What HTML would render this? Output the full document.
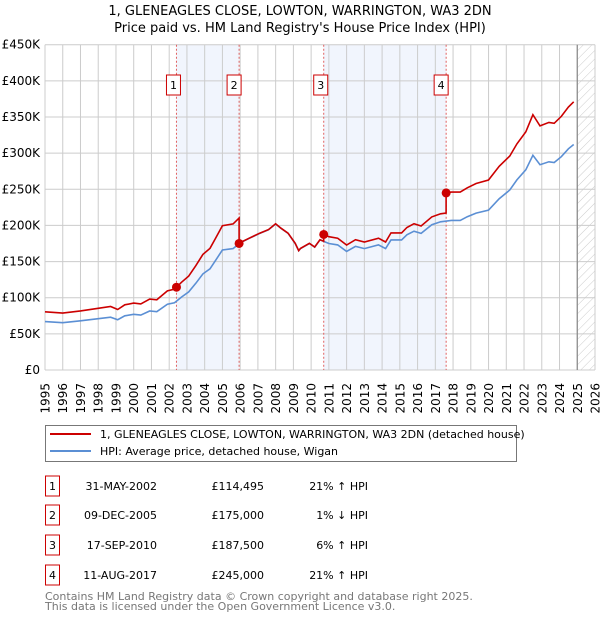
<!DOCTYPE html>
<html><head><meta charset="utf-8"><style>
body{margin:0;background:#fff;font-family:"DejaVu Sans","Liberation Sans",sans-serif;}
svg text{font-family:"DejaVu Sans","Liberation Sans",sans-serif;}
</style></head><body>
<svg id="chart" width="600" height="620" xmlns="http://www.w3.org/2000/svg">
<defs>
<pattern id="hatch" width="6" height="6" patternUnits="userSpaceOnUse" patternTransform="rotate(45)">
<line x1="0" y1="0" x2="0" y2="6" stroke="#ccc" stroke-width="1"/>
</pattern>
</defs>
<text x="300" y="15" text-anchor="middle" font-size="13">1, GLENEAGLES CLOSE, LOWTON, WARRINGTON, WA3 2DN</text>
<text x="300" y="32" text-anchor="middle" font-size="13">Price paid vs. HM Land Registry's House Price Index (HPI)</text>
<g id="plot"></g>
<g>
<rect x="45.5" y="425.5" width="471" height="36" fill="#fff" stroke="#777"/>
<line x1="50" y1="434" x2="91" y2="434" stroke="#cc0000" stroke-width="2"/>
<text x="100" y="438" font-size="11">1, GLENEAGLES CLOSE, LOWTON, WARRINGTON, WA3 2DN (detached house)</text>
<line x1="50" y1="451" x2="91" y2="451" stroke="#5b8fd4" stroke-width="2"/>
<text x="100" y="455" font-size="11">HPI: Average price, detached house, Wigan</text>
</g>
<g id="table" font-size="11"></g>
<text x="45" y="600" font-size="11" fill="#777">Contains HM Land Registry data © Crown copyright and database right 2025.</text>
<text x="45" y="610" font-size="11" fill="#777">This data is licensed under the Open Government Licence v3.0.</text>
</svg>
<script>
const hpiYears=[1995,1996,1997,1998,1998.7,1999.1,1999.5,2000,2000.4,2000.9,2001.3,2001.9,2002.3,2002.7,2003.1,2003.5,2003.9,2004.3,2004.6,2005,2005.6,2006,2006.5,2007.1,2007.6,2008,2008.3,2008.7,2009.1,2009.3,2009.4,2009.9,2010.2,2010.5,2011,2011.5,2012,2012.5,2013,2013.8,2014.2,2014.5,2015.1,2015.4,2015.8,2016.2,2016.8,2017.3,2017.9,2018.4,2018.8,2019.3,2020,2020.6,2021.2,2021.6,2022.1,2022.5,2022.9,2023.4,2023.7,2024.1,2024.5,2024.8];
const hpiValues=[67,65.5,68,71,73,69.6,75,77,76,81.6,80.7,91,93,101,108,120,133,140,151,166,168,176,182,189,194,202,196,189,175,165,168,175,170,180,175,173,164,171,168,173,168,180,180,187,192,189,201,205,207,207,212,217,221,237,249,263,277,297,284,288,287,295,306,312];
const saleYears=[2002.41,2005.94,2010.71,2017.61];
const salePrices=[114.495,175,187.5,245];
const saleLabels=["1","2","3","4"];
const saleDates=["31-MAY-2002","09-DEC-2005","17-SEP-2010","11-AUG-2017"];
const salePriceText=["£114,495","£175,000","£187,500","£245,000"];
const saleHpiText=["21% ↑ HPI","1% ↓ HPI","6% ↑ HPI","21% ↑ HPI"];
const yTicks=[0,50,100,150,200,250,300,350,400,450];
const yTickLabels=["£0","£50K","£100K","£150K","£200K","£250K","£300K","£350K","£400K","£450K"];
const xTicks=[];for(let y=1995;y<=2026;y++)xTicks.push(y);

const L=45,R=595,T=44.7,B=370;
const x=v=>L+(v-1995)*(R-L)/31;
const y=v=>B-v*(B-T)/450;
const NS="http://www.w3.org/2000/svg";
const plot=document.getElementById('plot');
function mk(tag,at,parent){const e=document.createElementNS(NS,tag);for(const k in at)e.setAttribute(k,at[k]);(parent||plot).appendChild(e);return e;}
function hpiAt(t){if(t<=hpiYears[0])return hpiValues[0];for(let i=1;i<hpiYears.length;i++){if(t<=hpiYears[i]){const f=(t-hpiYears[i-1])/(hpiYears[i]-hpiYears[i-1]);return hpiValues[i-1]+f*(hpiValues[i]-hpiValues[i-1]);}}return hpiValues[hpiValues.length-1];}

for(const [a,b] of [[0,1],[2,3]]){
 const r=mk('rect',{x:x(saleYears[a]),y:T,width:x(saleYears[b])-x(saleYears[a]),height:B-T,fill:'#eef3fc',opacity:0.8});
 
 
}
const h=mk('rect',{x:x(2025),y:T,width:R-x(2025),height:B-T,fill:'url(#hatch)'});


for(let i=0;i<yTicks.length;i++){
 const g=mk('line',{x1:L,x2:R,y1:y(yTicks[i]),y2:y(yTicks[i]),stroke:'#ccc','stroke-width':1});
 
 
 const t=mk('text',{x:L-5,y:y(yTicks[i])+4,'text-anchor':'end','font-size':12});
 t.textContent=yTickLabels[i];
 
 
}
for(const yr of xTicks){
 const g=mk('line',{x1:x(yr),x2:x(yr),y1:T,y2:B,stroke:'#ccc','stroke-width':1});
 
 
 const t=mk('text',{x:0,y:0,'font-size':12,'text-anchor':'end',transform:`translate(${(x(yr)+4.5).toFixed(1)},${B+13}) rotate(-90)`});
 t.textContent=yr;
 
 
}
const nl=mk('line',{x1:x(2025),x2:x(2025),y1:T,y2:B,stroke:'#888','stroke-width':1.2});


for(let i=0;i<saleYears.length;i++){
 const v=mk('line',{x1:x(saleYears[i]),x2:x(saleYears[i]),y1:T,y2:B,stroke:'#e06060','stroke-width':1,'stroke-dasharray':'2,2'});
 
 
}
const hp=hpiYears.map((t,i)=>x(t).toFixed(1)+','+y(hpiValues[i]).toFixed(1)).join(' ');
const hl=mk('polyline',{points:hp,fill:'none',stroke:'#5b8fd4','stroke-width':1.6});


let pts=[];
const ts=hpiYears.slice();saleYears.forEach(s=>{ts.push(s-0.001);ts.push(s);});ts.sort((a,b)=>a-b);
for(const t of ts){
 let k=0;for(let i=0;i<saleYears.length;i++)if(t>=saleYears[i])k=i;
 const v=salePrices[k]*hpiAt(t)/hpiAt(saleYears[k]);
 pts.push(x(t).toFixed(1)+','+y(v).toFixed(1));
}
const pl=mk('polyline',{points:pts.join(' '),fill:'none',stroke:'#cc0000','stroke-width':1.6});


for(let i=0;i<saleYears.length;i++){
 const c=mk('circle',{cx:x(saleYears[i]),cy:y(salePrices[i]),r:4.5,fill:'#cc0000'});
 
 
 const cx=x(saleYears[i])+(i===1||i===3? -5 : -3);
 const r=mk('rect',{x:cx-7,y:75,width:14,height:20,fill:'#fff',stroke:'#cc0000'});
 
 
 const t=mk('text',{x:cx,y:89,'text-anchor':'middle','font-size':11});
 t.textContent=saleLabels[i];
 
 
}
const tb=document.getElementById('table');
const rowsY=[486,515,545,575];
for(let i=0;i<saleLabels.length;i++){
 const ry=rowsY[i];
 const r=mk('rect',{x:45.5,y:ry-10,width:14,height:20,fill:'#fff',stroke:'#cc0000'},tb);
 
 
 const cells=[[52.5,'middle',saleLabels[i]],[157,'end',saleDates[i]],[264,'end',salePriceText[i]],[368,'end',saleHpiText[i]]];
 const nm=['table-row-number','table-date','table-price','table-hpi-diff'];
 cells.forEach((c,j)=>{
  const t=mk('text',{x:c[0],y:ry+4,'text-anchor':c[1]},tb);
  t.textContent=c[2];
  
  
 });
}
</script>
</body></html>
